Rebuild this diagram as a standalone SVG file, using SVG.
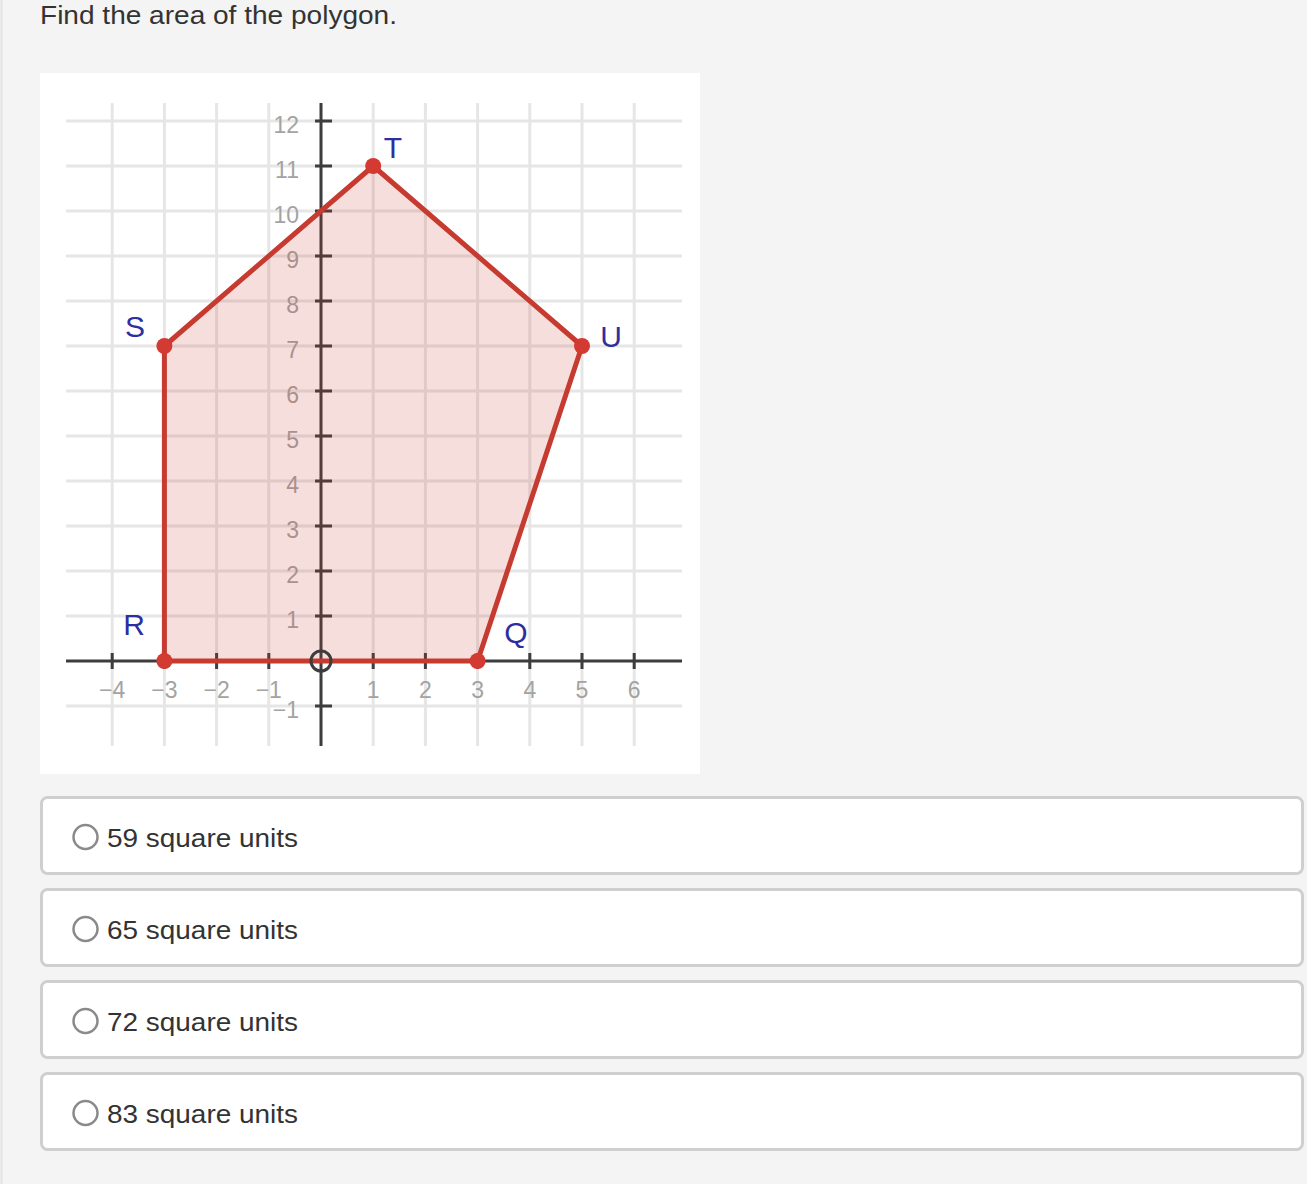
<svg xmlns="http://www.w3.org/2000/svg" width="1307" height="1184" viewBox="0 0 1307 1184">
<style>
.grid{stroke:#e6e6e6;stroke-width:3;fill:none}
.axis{stroke:#3d3d3d;stroke-width:3;fill:none}
.ylab{font-family:"Liberation Sans",Arial,sans-serif;font-size:23px;fill:#a3a3a3;text-anchor:end}
.xlab{font-family:"Liberation Sans",Arial,sans-serif;font-size:23px;fill:#a3a3a3;text-anchor:middle}
.vlab{font-family:"Liberation Sans",Arial,sans-serif;font-size:30px;fill:#2e2ea0;text-anchor:middle}
.pt{fill:#d23a32}
.opt{fill:#fff;stroke:#cfcfcf;stroke-width:3}
.radio{fill:#fff;stroke:#8a8a8a;stroke-width:2.5}
.otxt{font-family:"Liberation Sans",Arial,sans-serif;font-size:25px;fill:#333}
</style>
<rect x="0" y="0" width="1307" height="1184" fill="#f4f4f4"/>
<line x1="1.5" y1="0" x2="1.5" y2="1184" stroke="#e2e2e2" stroke-width="2"/>
<text x="40" y="24" font-family="Liberation Sans, Arial, sans-serif" font-size="25.5" fill="#333" textLength="357" lengthAdjust="spacingAndGlyphs">Find the area of the polygon.</text>
<g id="graph">
<rect x="40" y="73" width="660" height="701" fill="#fff"/>
<g id="grid" class="grid">
<path d="M112.2 103V746M164.4 103V746M216.6 103V746M268.8 103V746M373.2 103V746M425.4 103V746M477.6 103V746M529.8 103V746M582 103V746M634.2 103V746"/>
<path d="M66 706H682M66 616H682M66 571H682M66 526H682M66 481H682M66 436H682M66 391H682M66 346H682M66 301H682M66 256H682M66 211H682M66 166H682M66 121H682"/>
</g>
<g id="axes" class="axis">
<path d="M66 661H682M321 103V746"/>
<path d="M112.2 653V669M164.4 653V669M216.6 653V669M268.8 653V669M373.2 653V669M425.4 653V669M477.6 653V669M529.8 653V669M582 653V669M634.2 653V669"/>
<path d="M315 706H332M315 616H332M315 571H332M315 526H332M315 481H332M315 436H332M315 391H332M315 346H332M315 301H332M315 256H332M315 211H332M315 166H332M315 121H332"/>
</g>
<g id="ylabels" class="ylab">
<text x="299" y="133">12</text>
<text x="299" y="178">11</text>
<text x="299" y="223">10</text>
<text x="299" y="268">9</text>
<text x="299" y="313">8</text>
<text x="299" y="358">7</text>
<text x="299" y="403">6</text>
<text x="299" y="448">5</text>
<text x="299" y="493">4</text>
<text x="299" y="538">3</text>
<text x="299" y="583">2</text>
<text x="299" y="628">1</text>
<text x="299" y="718">−1</text>
</g>
<g id="xlabels" class="xlab">
<text x="112.2" y="698">−4</text>
<text x="164.4" y="698">−3</text>
<text x="216.6" y="698">−2</text>
<text x="268.8" y="698">−1</text>
<text x="373.2" y="698">1</text>
<text x="425.4" y="698">2</text>
<text x="477.6" y="698">3</text>
<text x="529.8" y="698">4</text>
<text x="582" y="698">5</text>
<text x="634.2" y="698">6</text>
</g>
<g id="polygon">
<polygon points="164.4,661 164.4,346 373.2,166 582,346 477.6,661" fill="#c8392e" fill-opacity="0.17" stroke="#c63a30" stroke-width="5" stroke-linejoin="round"/>
</g>
<circle id="origin" cx="321" cy="661" r="10" fill="none" stroke="#3d3d3d" stroke-width="3"/>
<g id="vertex-R"><circle class="pt" cx="164.4" cy="661" r="8"/><text class="vlab" x="134" y="635">R</text></g>
<g id="vertex-S"><circle class="pt" cx="164.4" cy="346" r="8"/><text class="vlab" x="135" y="337">S</text></g>
<g id="vertex-T"><circle class="pt" cx="373.2" cy="166" r="8"/><text class="vlab" x="393" y="158">T</text></g>
<g id="vertex-U"><circle class="pt" cx="582" cy="346" r="8"/><text class="vlab" x="611" y="347">U</text></g>
<g id="vertex-Q"><circle class="pt" cx="477.6" cy="661" r="8"/><text class="vlab" x="516" y="643">Q</text></g>
</g>
<g id="option-1"><rect class="opt" x="41.5" y="797.5" width="1261" height="76" rx="6"/><circle class="radio" cx="85.5" cy="837" r="12"/><text class="otxt" x="107" y="847" textLength="191" lengthAdjust="spacingAndGlyphs">59 square units</text></g>
<g id="option-2"><rect class="opt" x="41.5" y="889.5" width="1261" height="76" rx="6"/><circle class="radio" cx="85.5" cy="929" r="12"/><text class="otxt" x="107" y="939" textLength="191" lengthAdjust="spacingAndGlyphs">65 square units</text></g>
<g id="option-3"><rect class="opt" x="41.5" y="981.5" width="1261" height="76" rx="6"/><circle class="radio" cx="85.5" cy="1021" r="12"/><text class="otxt" x="107" y="1031" textLength="191" lengthAdjust="spacingAndGlyphs">72 square units</text></g>
<g id="option-4"><rect class="opt" x="41.5" y="1073.5" width="1261" height="76" rx="6"/><circle class="radio" cx="85.5" cy="1113" r="12"/><text class="otxt" x="107" y="1123" textLength="191" lengthAdjust="spacingAndGlyphs">83 square units</text></g>
</svg>
